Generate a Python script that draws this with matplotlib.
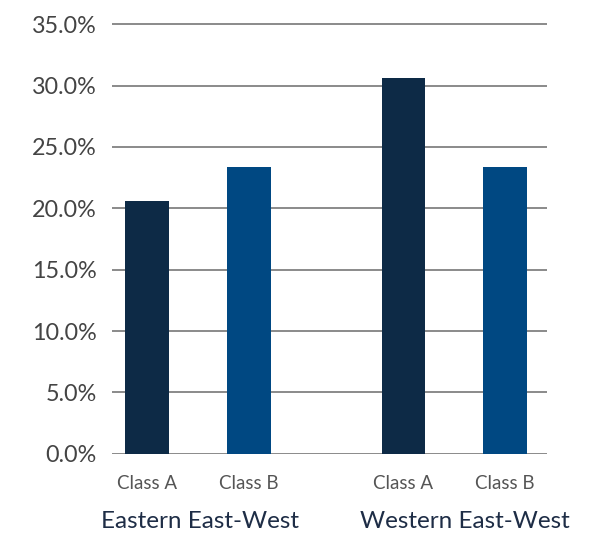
import matplotlib.pyplot as plt
import numpy as np

# data
groups = ["Eastern East-West", "Western East-West"]
classes = ["Class A", "Class B"]
class_a = [20.6, 30.6]
class_b = [23.4, 23.4]
colors = ["#0d2a46", "#004882"]

plt.rcParams['font.family'] = ['Lato', 'DejaVu Sans']

fig = plt.figure(figsize=(5.9, 5.39), dpi=100)
ax = fig.add_axes([0.19, 0.158, 0.737, 0.799])

group_gap = 2.52
width = 0.43
base = np.arange(len(groups)) * group_gap
xa = base
xb = base + 1

ax.bar(xa, class_a, width=width, color=colors[0], zorder=3)
ax.bar(xb, class_b, width=width, color=colors[1], zorder=3)

ax.set_ylim(0, 35.08)
ax.set_xlim(-0.343, base[-1] + 1 + 0.41)
yt = np.arange(0, 36, 5)
ax.set_yticks(yt)
ax.set_yticklabels([f"{v:.1f}%" for v in yt], fontsize=16.8, color="#444444")
ax.yaxis.grid(True, color="#6b6b6b", linewidth=1.1, zorder=1)
ax.tick_params(axis='y', length=0, pad=11)

xt = np.concatenate([[a, b] for a, b in zip(xa, xb)])
ax.set_xticks(xt)
ax.set_xticklabels(classes * len(groups), fontsize=13.5, color="#555555")
ax.tick_params(axis='x', length=0, pad=15)

for s in ax.spines.values():
    s.set_visible(False)

for i, g in enumerate(groups):
    ax.text(base[i] + 0.5 + (0.1 if i == 1 else 0.02), -0.158, g,
            transform=ax.get_xaxis_transform(), ha='center', va='center',
            fontsize=17.5, color="#1e2d46")

fig.savefig("out.png", dpi=100)
